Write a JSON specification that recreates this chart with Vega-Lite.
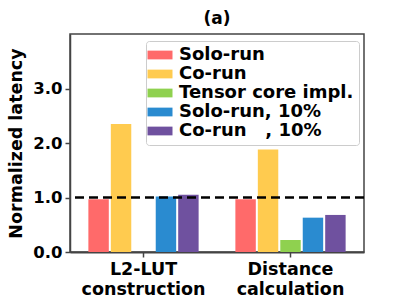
{
  "$schema": "https://vega.github.io/schema/vega-lite/v6.json",
  "width": 294,
  "height": 218,
  "autosize": {"type": "none"},
  "padding": {"left": 70, "top": 34, "right": 39, "bottom": 55},
  "background": "white",
  "title": {"text": "(a)", "fontSize": 17, "fontWeight": "bold", "font": "DejaVu Sans", "color": "black", "offset": 6, "anchor": "middle"},
  "config": {
    "font": "DejaVu Sans",
    "view": {"stroke": "#444", "strokeWidth": 1.5}
  },
  "data": {"values": [
    {"task": "L2-LUT|construction", "method": "Solo-run", "latency": 0.97},
    {"task": "L2-LUT|construction", "method": "Co-run", "latency": 2.35},
    {"task": "L2-LUT|construction", "method": "Solo-run, 10%", "latency": 1.02},
    {"task": "L2-LUT|construction", "method": "Co-run\u00a0\u00a0\u00a0, 10%", "latency": 1.05},
    {"task": "Distance|calculation", "method": "Solo-run", "latency": 0.97},
    {"task": "Distance|calculation", "method": "Co-run", "latency": 1.88},
    {"task": "Distance|calculation", "method": "Tensor core impl.", "latency": 0.22},
    {"task": "Distance|calculation", "method": "Solo-run, 10%", "latency": 0.63},
    {"task": "Distance|calculation", "method": "Co-run\u00a0\u00a0\u00a0, 10%", "latency": 0.68}
  ]},
  "layer": [
    {
      "mark": {"type": "bar"},
      "encoding": {
        "x": {
          "field": "task", "type": "nominal", "sort": null,
          "scale": {"paddingInner": 0.25, "paddingOuter": 0.125},
          "axis": {
            "title": null, "labelAngle": 0,
            "labelExpr": "split(datum.label, '|')",
            "labelFontSize": 17.5, "labelFontWeight": "bold", "labelColor": "black",
            "labelLineHeight": 20, "labelPadding": 3,
            "tickSize": 5, "tickColor": "#444", "tickWidth": 1.5,
            "domainColor": "#444", "domainWidth": 2
          }
        },
        "xOffset": {
          "field": "method", "type": "nominal",
          "scale": {"domain": ["Solo-run", "Co-run", "Tensor core impl.", "Solo-run, 10%", "Co-run\u00a0\u00a0\u00a0, 10%"], "paddingInner": 0.09}
        },
        "y": {
          "field": "latency", "type": "quantitative",
          "scale": {"domain": [0, 4]},
          "axis": {
            "title": "Normalized latency", "titleFontSize": 17.5, "titleFontWeight": "bold", "titleColor": "black", "titlePadding": 7,
            "values": [0, 1, 2, 3], "format": ".1f",
            "labelFontSize": 16.5, "labelFontWeight": "bold", "labelColor": "black", "labelPadding": 3,
            "tickSize": 5, "tickColor": "#444", "tickWidth": 1.5,
            "domainColor": "#444", "domainWidth": 1.5, "grid": false
          }
        },
        "color": {
          "field": "method", "type": "nominal",
          "scale": {
            "domain": ["Solo-run", "Co-run", "Tensor core impl.", "Solo-run, 10%", "Co-run\u00a0\u00a0\u00a0, 10%"],
            "range": ["#ff6a6a", "#ffcb4f", "#8fd14f", "#2a8bd0", "#6f519f"]
          },
          "legend": {
            "title": null, "orient": "none", "legendX": 76, "legendY": 7,
            "labelFontSize": 18, "labelFontWeight": "bold", "labelColor": "black", "labelLimit": 400,
            "symbolType": "M-2.5,-0.875L2.5,-0.875L2.5,0.875L-2.5,0.875Z", "symbolSize": 100, "symbolStrokeWidth": 0,
            "rowPadding": 1, "labelOffset": 10,
            "fillColor": "white", "strokeColor": "#ccc", "cornerRadius": 3, "padding": 5
          }
        }
      }
    },
    {
      "data": {"values": [{"y": 1}]},
      "mark": {"type": "rule", "color": "black", "strokeWidth": 2.5, "strokeDash": [9, 5]},
      "encoding": {"y": {"field": "y", "type": "quantitative"}}
    }
  ]
}
